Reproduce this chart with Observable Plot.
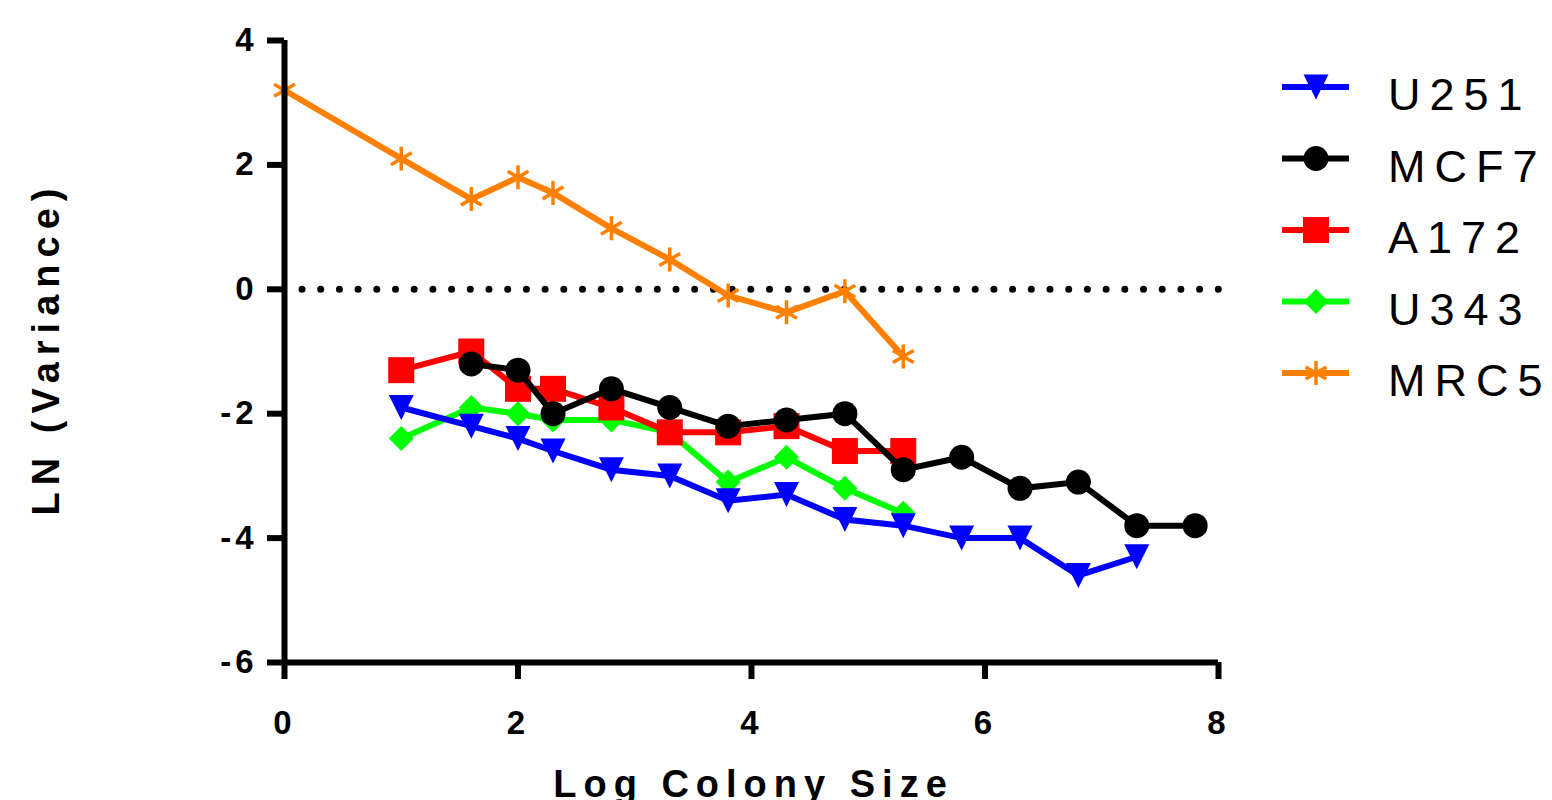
<!DOCTYPE html>
<html><head><meta charset="utf-8">
<script src="https://cdn.jsdelivr.net/npm/d3@7"></script>
<script src="https://cdn.jsdelivr.net/npm/@observablehq/plot@0.6"></script>
<style>
body{margin:0;background:#fff;}
#wrap{position:relative;width:1552px;height:800px;overflow:hidden;background:#fff;}
#wrap svg text{font-family:"Liberation Sans",Arial,sans-serif;}
#legend{position:absolute;left:0;top:0;pointer-events:none;}
</style></head><body><div id="wrap"></div>
<script>
// ---- data ----
const seriesNames = ["U251", "MCF7", "A172", "U343", "MRC5"];
const seriesColors = ["#0000FF", "#000000", "#FF0000", "#00FF00", "#FF8000"];
const xTicks = [0, 2, 4, 6, 8];
const yTicks = [-6, -4, -2, 0, 2, 4];
const xTitle = "Log Colony Size";
const yTitle = "LN (Variance)";

const u251X = [1, 1.6, 2, 2.3, 2.8, 3.3, 3.8, 4.3, 4.8, 5.3, 5.8, 6.3, 6.8, 7.3];
const u251Y = [-1.9, -2.2, -2.4, -2.6, -2.9, -3.0, -3.4, -3.3, -3.7, -3.8, -4.0, -4.0, -4.6, -4.3];

const mcf7X = [1.6, 2, 2.3, 2.8, 3.3, 3.8, 4.3, 4.8, 5.3, 5.8, 6.3, 6.8, 7.3, 7.8];
const mcf7Y = [-1.2, -1.3, -2.0, -1.6, -1.9, -2.2, -2.1, -2.0, -2.9, -2.7, -3.2, -3.1, -3.8, -3.8];

const a172X = [1, 1.6, 2, 2.3, 2.8, 3.3, 3.8, 4.3, 4.8, 5.3];
const a172Y = [-1.3, -1.0, -1.6, -1.6, -1.9, -2.3, -2.3, -2.2, -2.6, -2.6];

const u343X = [1, 1.6, 2, 2.3, 2.8, 3.3, 3.8, 4.3, 4.8, 5.3];
const u343Y = [-2.4, -1.9, -2.0, -2.1, -2.1, -2.3, -3.1, -2.7, -3.2, -3.6];

const mrc5X = [0, 1, 1.6, 2, 2.3, 2.8, 3.3, 3.8, 4.3, 4.8, 5.3];
const mrc5Y = [3.2, 2.1, 1.45, 1.8, 1.55, 0.98, 0.48, -0.1, -0.37, -0.03, -1.08];

// ---- symbols ----
const half = s => Math.sqrt(s / Math.PI);
const symTriDown = {draw(c, s){const r = half(s); c.moveTo(-r, -r); c.lineTo(r, -r); c.lineTo(0, r); c.closePath();}};
const symCircle = {draw(c, s){const r = half(s); c.moveTo(r, 0); c.arc(0, 0, r, 0, 2 * Math.PI);}};
const symSquare = {draw(c, s){const r = half(s); c.moveTo(-r, -r); c.lineTo(r, -r); c.lineTo(r, r); c.lineTo(-r, r); c.closePath();}};
const symDiamond = {draw(c, s){const r = half(s); c.moveTo(0, -r); c.lineTo(r, 0); c.lineTo(0, r); c.lineTo(-r, 0); c.closePath();}};
const symAster = {draw(c, s){const r = half(s); const t = r / 2, u = t * Math.sqrt(3);
  c.moveTo(0, r); c.lineTo(0, -r); c.moveTo(-u, -t); c.lineTo(u, t); c.moveTo(-u, t); c.lineTo(u, -t);}};

const series = [
  {xs: u251X, ys: u251Y, sym: symTriDown, r: 12.5, filled: true},
  {xs: mcf7X, ys: mcf7Y, sym: symCircle, r: 12.5, filled: true},
  {xs: a172X, ys: a172Y, sym: symSquare, r: 13, filled: true},
  {xs: u343X, ys: u343Y, sym: symDiamond, r: 12.5, filled: true},
  {xs: mrc5X, ys: mrc5Y, sym: symAster, r: 12, filled: false}
].map((s, i) => ({...s, name: seriesNames[i], color: seriesColors[i]}));

const dataMarks = [];
for (const s of [...series].reverse()) {
  dataMarks.push(Plot.line(s.ys, {x: s.xs, y: d => d, stroke: s.color, strokeWidth: 6, strokeLinejoin: "miter", strokeMiterlimit: 4}));
  dataMarks.push(Plot.dot(s.ys, {x: s.xs, y: d => d, symbol: s.sym, r: s.r,
    fill: s.filled ? s.color : "none", stroke: s.filled ? "none" : s.color, strokeWidth: s.filled ? 0 : 3.5}));
}

const chart = Plot.plot({
  width: 1552, height: 800,
  marginLeft: 284, marginRight: 334, marginTop: 40, marginBottom: 138,
  style: {background: "#fff", overflow: "visible", color: "#000"},
  x: {domain: [0, 8]},
  y: {domain: [-6, 4]},
  marks: [
    Plot.ruleY([0], {x1: 0, x2: 8.02, stroke: "#000", strokeWidth: 7, strokeLinecap: "round", strokeDasharray: "0 18.7", strokeDashoffset: 0.7}),
    ...dataMarks,
    Plot.ruleX([0], {stroke: "#000", strokeWidth: 6}),
    Plot.ruleY([-6], {stroke: "#000", strokeWidth: 6}),
    Plot.axisY({ticks: yTicks, tickSize: 17, tickPadding: 10, strokeWidth: 6, fontSize: 33, fontWeight: "bold", label: null, tickFormat: d => String(d)}),
    Plot.axisX({ticks: xTicks, tickSize: 17, tickPadding: 31, strokeWidth: 6, fontSize: 33, fontWeight: "bold", label: null, tickFormat: d => String(d)}),
    Plot.text([yTitle], {frameAnchor: "left", dx: -238, dy: -3, rotate: -90, fontSize: 38, fontWeight: "bold", textAnchor: "middle", lineAnchor: "middle"}),
    Plot.text([xTitle], {frameAnchor: "bottom", dy: 122, dx: 2, fontSize: 38, fontWeight: "bold", textAnchor: "middle", lineAnchor: "middle"})
  ]
});
const wrap = document.getElementById("wrap");
wrap.appendChild(chart);

// text styling (letter spacing / sizes)
d3.select(chart).selectAll("text").each(function() {
  const t = this.textContent;
  const sel = d3.select(this).style("font-family", "'Liberation Sans', Arial, sans-serif").style("font-weight", "bold");
  if (t === xTitle || t === yTitle) sel.style("font-size", "38px").style("letter-spacing", "7px");
  else sel.style("font-size", "33px").style("letter-spacing", "4px");
});

// ---- legend ----
const legendTop = 87, legendStep = 71.5;
const lg = d3.select(wrap).append("svg").attr("id", "legend").attr("width", 1552).attr("height", 800);
series.forEach((s, i) => {
  const y = legendTop + i * legendStep;
  const g = lg.append("g");
  g.append("line").attr("x1", 1282).attr("x2", 1349).attr("y1", y).attr("y2", y).attr("stroke", s.color).attr("stroke-width", 6);
  g.append("path").attr("transform", `translate(1316,${y})`)
    .attr("d", d3.symbol(s.sym, Math.PI * s.r * s.r)())
    .attr("fill", s.filled ? s.color : "none").attr("stroke", s.filled ? "none" : s.color).attr("stroke-width", s.filled ? 0 : 3.5);
  g.append("text").attr("x", 1388).attr("y", y + 23).attr("font-size", 45).attr("letter-spacing", "9px")
    .attr("fill", "#000").style("font-family", "'Liberation Sans', Arial, sans-serif").text(s.name);
});
</script></body></html>
